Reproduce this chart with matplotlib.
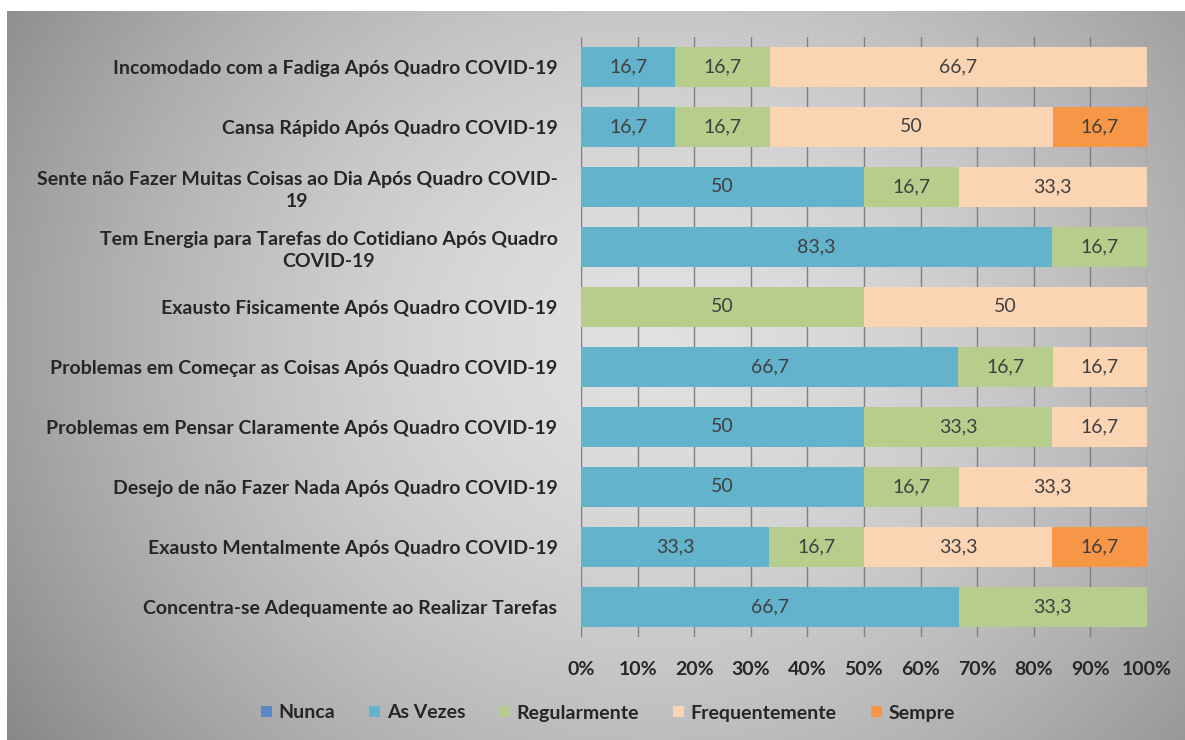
import numpy as np
import matplotlib
matplotlib.use("Agg")
import matplotlib.pyplot as plt

categories = [
    "Incomodado com a Fadiga Após Quadro COVID-19",
    "Cansa Rápido Após Quadro COVID-19",
    "Sente não Fazer Muitas Coisas ao Dia Após Quadro COVID-\n19",
    "Tem Energia para Tarefas do Cotidiano Após Quadro\nCOVID-19",
    "Exausto Fisicamente Após Quadro COVID-19",
    "Problemas em Começar as Coisas Após Quadro COVID-19",
    "Problemas em Pensar Claramente Após Quadro COVID-19",
    "Desejo de não Fazer Nada Após Quadro COVID-19",
    "Exausto Mentalmente Após Quadro COVID-19",
    "Concentra-se Adequamente ao Realizar Tarefas",
]
series_names = ["Nunca", "As Vezes", "Regularmente", "Frequentemente", "Sempre"]
nunca = [0, 0, 0, 0, 0, 0, 0, 0, 0, 0]
as_vezes = [16.7, 16.7, 50, 83.3, 0, 66.7, 50, 50, 33.3, 66.7]
regularmente = [16.7, 16.7, 16.7, 16.7, 50, 16.7, 33.3, 16.7, 16.7, 33.3]
frequentemente = [66.7, 50, 33.3, 0, 50, 16.7, 16.7, 33.3, 33.3, 0]
sempre = [0, 16.7, 0, 0, 0, 0, 0, 0, 16.7, 0]
tick_labels = ["0%", "10%", "20%", "30%", "40%", "50%", "60%", "70%", "80%", "90%", "100%"]

colors = ["#5A88C2", "#62B3CB", "#B6CD8C", "#FBD4B3", "#F79646"]

plt.rcParams['font.family'] = ["Lato", "DejaVu Sans"]

W, H = 1185, 740
fig = plt.figure(figsize=(W / 100, H / 100), dpi=100)
fig.patch.set_facecolor("white")

# gradient background panel
bg = fig.add_axes([7 / W, 0, 1 - 7 / W, 1 - 11 / H], zorder=-5)
yy, xx = np.mgrid[0:1:300j, 0:1:500j]
r = np.sqrt(((xx - 0.55) / 0.75) ** 2 + ((yy - 0.45) / 1.1) ** 2)
g = 0.88 - 0.42 * r ** 1.6
bg.imshow(np.dstack([g, g, g]).clip(0, 1), aspect="auto", extent=[0, 1, 0, 1], origin="upper")
bg.set_axis_off()

ax = fig.add_axes([581 / W, 1 - 637 / H, (1147 - 581) / W, (637 - 37) / H])
ax.set_facecolor("none")

data = np.array([nunca, as_vezes, regularmente, frequentemente, sempre], dtype=float)
totals = data.sum(axis=0)
pct = data / totals * 100
y = np.arange(len(categories))
left = np.zeros(len(categories))
for i, name in enumerate(series_names):
    ax.barh(y, pct[i], left=left, height=0.67, color=colors[i], label=name, zorder=3)
    for j in range(len(categories)):
        v = data[i, j]
        if v > 0:
            txt = ("%g" % v).replace(".", ",")
            ax.text(left[j] + pct[i, j] / 2, y[j], txt, ha="center", va="center",
                    fontsize=14, color="#404040", zorder=4)
    left += pct[i]

ax.set_ylim(len(categories) - 0.5, -0.5)
ax.set_xlim(0, 100)
ax.set_xticks(np.arange(0, 101, 10))
ax.set_xticklabels(tick_labels, fontsize=14, fontweight="bold", color="#262626")
ax.set_yticks(y)
ax.set_yticklabels(categories, fontsize=14, fontweight="bold", color="#262626",
                   multialignment="center", linespacing=1.35)
ax.tick_params(axis="y", length=0, pad=17)
ax.tick_params(axis="x", length=0, pad=17)
ax.grid(axis="x", color="#7f7f7f", linewidth=1.0, zorder=0)
for s in ax.spines.values():
    s.set_visible(False)

leg = fig.legend(loc="center", bbox_to_anchor=(0.513, 1 - 713 / H), ncol=5, frameon=False,
                 fontsize=14, handlelength=0.55, handleheight=0.55, columnspacing=1.75,
                 handletextpad=0.35)
for t in leg.get_texts():
    t.set_fontweight("bold")
    t.set_color("#262626")

fig.savefig("out.png", dpi=100)
